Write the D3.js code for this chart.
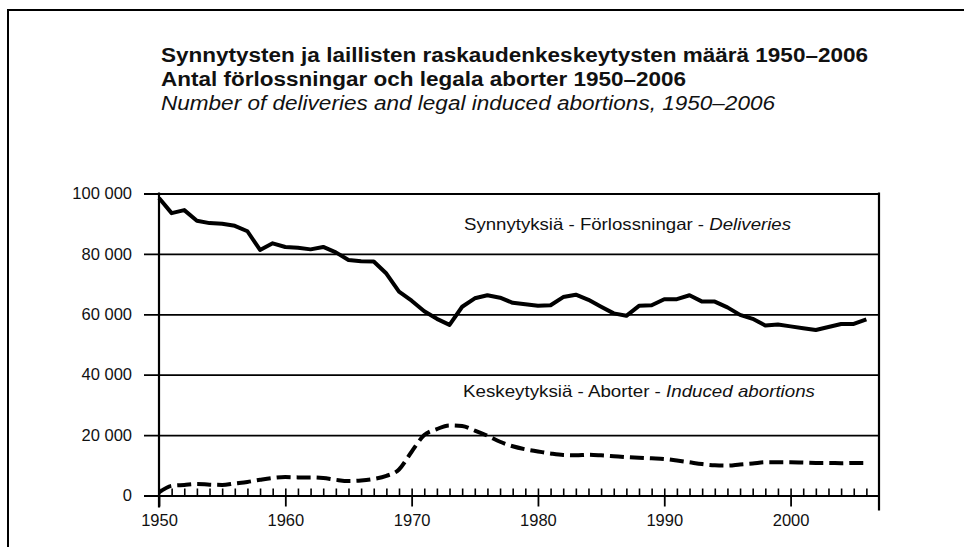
<!DOCTYPE html>
<html>
<head>
<meta charset="utf-8">
<script src="https://cdn.jsdelivr.net/npm/d3@7"></script>
<style>
  body { margin: 0; background: #fff; }
  svg { display: block; font-family: "Liberation Sans", Arial, Helvetica, sans-serif; }
</style>
</head>
<body>
<div id="chart"></div>
<script>
// years 1950-2006
const years = d3.range(1950, 2007)

// deliveries (synnytyksiä / förlossningar)
const deliveries = [
  98500, 93500, 94500, 91000, 90200, 90000, 89300, 87500, 81300, 83500,
  82300, 82000, 81500, 82300, 80500, 78000, 77600, 77500, 73500, 67500,
  64500, 61000, 58500, 56500, 62500, 65300, 66300, 65500, 63800, 63300,
  62800, 63000, 65700, 66500, 64800, 62500, 60300, 59500, 62800, 63000,
  65000, 65000, 66300, 64200, 64200, 62300, 59800, 58500, 56300, 56600,
  56000, 55400, 54800, 55800, 56800, 56800, 58300
]

// induced abortions (keskeytyksiä / aborter)
const abortions = [
  1000, 3200, 3500, 3800, 3600, 3500, 4000, 4500, 5200, 5800,
  6100, 6000, 6000, 5800, 5200, 4800, 5000, 5500, 6500, 8600,
  14500, 20000, 22000, 23200, 23000, 21500, 19800, 17800, 16300, 15300,
  14600, 13900, 13400, 13300, 13500, 13300, 13000, 12700, 12500, 12300,
  12100, 11600, 11000, 10400, 10000, 9900, 10300, 10600, 11000, 11000,
  11000, 10900, 10800, 10800, 10700, 10800, 10800
]

const yTicks = [0, 20000, 40000, 60000, 80000, 100000]
const xTicks = [1950, 1960, 1970, 1980, 1990, 2000]

const W = 964, H = 547
const plotL = 159, plotR = 879, plotT = 193.5, plotB = 495.5

const svg = d3.select("#chart").append("svg")
  .attr("width", W).attr("height", H)

// outer frame (top and left only)
svg.append("path")
  .attr("d", `M8,${H} V10 H${W}`)
  .attr("fill", "none").attr("stroke", "#000").attr("stroke-width", 2)

// titles, stretched to the width of the printed originals
const titles = svg.append("g").attr("fill", "#111")
titles.append("text").attr("x", 161).attr("y", 62)
  .attr("font-size", 19.5).attr("font-weight", "bold")
  .attr("textLength", 707).attr("lengthAdjust", "spacingAndGlyphs")
  .text("Synnytysten ja laillisten raskaudenkeskeytysten määrä 1950–2006")
titles.append("text").attr("x", 161).attr("y", 85.5)
  .attr("font-size", 19.5).attr("font-weight", "bold")
  .attr("textLength", 525).attr("lengthAdjust", "spacingAndGlyphs")
  .text("Antal förlossningar och legala aborter 1950–2006")
titles.append("text").attr("x", 161).attr("y", 109.5)
  .attr("font-size", 19.5).attr("font-style", "italic")
  .attr("textLength", 614).attr("lengthAdjust", "spacingAndGlyphs")
  .text("Number of deliveries and legal induced abortions, 1950–2006")

const x = d3.scaleLinear().domain([1950, 2007]).range([plotL, plotR])
const y = d3.scaleLinear().domain([0, 100000]).range([plotB, plotT])

const fmt = d => d3.format(",")(d).replace(/,/g, " ")

// y axis: gridlines across the plot, labels on the left
const yAxis = svg.append("g")
  .attr("transform", `translate(${plotR},0)`)
  .call(d3.axisLeft(y).tickValues(yTicks).tickFormat(fmt)
    .tickSize(plotR - 144).tickPadding(12))
yAxis.select(".domain").remove()
yAxis.selectAll("line").attr("stroke", "#000").attr("stroke-width", 1.8)
yAxis.selectAll("text").attr("font-size", 16.5).attr("fill", "#111")
  .attr("font-family", "'Liberation Sans', Arial, sans-serif")

// x axis: minor yearly ticks upward, major decade ticks downward
const xMinor = svg.append("g")
  .attr("transform", `translate(0,${plotB})`)
  .call(d3.axisBottom(x).tickValues(years).tickFormat("").tickSize(-7))
xMinor.select(".domain").remove()
xMinor.selectAll("line").attr("stroke", "#000").attr("stroke-width", 1.6)

const xAxis = svg.append("g")
  .attr("transform", `translate(0,${plotB})`)
  .call(d3.axisBottom(x).tickValues(xTicks).tickFormat(d3.format("d"))
    .tickSize(11).tickPadding(8))
xAxis.select(".domain").remove()
xAxis.selectAll("line").attr("stroke", "#000").attr("stroke-width", 1.8)
xAxis.selectAll("text").attr("font-size", 16.5).attr("fill", "#111")
  .attr("font-family", "'Liberation Sans', Arial, sans-serif")

// y axis line and right border
svg.append("line").attr("x1", plotL).attr("x2", plotL)
  .attr("y1", plotT - 1).attr("y2", plotB + 12)
  .attr("stroke", "#000").attr("stroke-width", 2.2)
svg.append("line").attr("x1", plotR).attr("x2", plotR)
  .attr("y1", plotT - 1).attr("y2", plotB + 15)
  .attr("stroke", "#000").attr("stroke-width", 2.2)

// series
svg.append("path")
  .datum(deliveries)
  .attr("fill", "none").attr("stroke", "#000").attr("stroke-width", 4)
  .attr("stroke-linejoin", "round")
  .attr("d", d3.line().x((d, i) => x(years[i])).y(d => y(d)))

svg.append("path")
  .datum(abortions)
  .attr("fill", "none").attr("stroke", "#000").attr("stroke-width", 4)
  .attr("stroke-dasharray", "14,6")
  .attr("d", d3.line().curve(d3.curveMonotoneX).x((d, i) => x(years[i])).y(d => y(d)))

// series labels
const lab1 = svg.append("text").attr("x", 464).attr("y", 230)
  .attr("font-size", 16.5).attr("fill", "#111")
  .attr("textLength", 327).attr("lengthAdjust", "spacingAndGlyphs")
lab1.append("tspan").text("Synnytyksiä - Förlossningar - ")
lab1.append("tspan").attr("font-style", "italic").text("Deliveries")

const lab2 = svg.append("text").attr("x", 463).attr("y", 397)
  .attr("font-size", 16.5).attr("fill", "#111")
  .attr("textLength", 352).attr("lengthAdjust", "spacingAndGlyphs")
lab2.append("tspan").text("Keskeytyksiä - Aborter - ")
lab2.append("tspan").attr("font-style", "italic").text("Induced abortions")
</script>
</body>
</html>
